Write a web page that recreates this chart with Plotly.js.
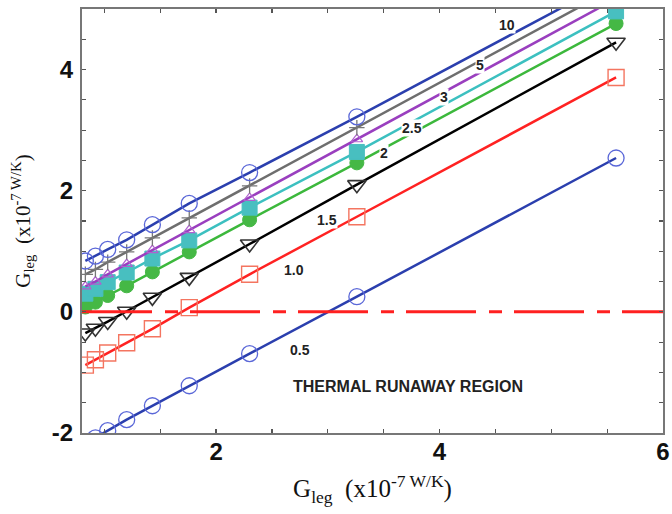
<!DOCTYPE html>
<html>
<head>
<meta charset="utf-8">
<script src="https://cdn.plot.ly/plotly-3.0.1.min.js"></script>
<style>html,body{margin:0;padding:0;background:#fff;}#chart{width:672px;height:514px;}</style>
</head>
<body>
<div id="chart"></div>
<script>
// Gleg values (x10^-7 W/K) on the x axis
const gLeg = [0.83, 0.92, 1.03, 1.20, 1.43, 1.76, 2.30, 3.26, 5.58];

// Series, one per curve label
const s10  = [0.84, 0.92, 1.03, 1.19, 1.44, 1.79, 2.30, 3.22, 5.50];
const s5   = [0.62, 0.70, 0.82, 0.99, 1.22, 1.55, 2.08, 3.04, 5.36];
const s3   = [0.42, 0.50, 0.62, 0.79, 1.02, 1.35, 1.88, 2.85, 5.17];
const s25  = [0.30, 0.38, 0.49, 0.65, 0.88, 1.18, 1.72, 2.64, 4.96];
const s2   = [0.08, 0.16, 0.27, 0.43, 0.66, 0.99, 1.52, 2.46, 4.76];
const s15  = [-0.35, -0.27, -0.16, 0.01, 0.24, 0.57, 1.12, 2.10, 4.45];
const s10b = [-0.88, -0.79, -0.68, -0.51, -0.28, 0.07, 0.62, 1.57, 3.87];
const s05  = [-2.17, -2.08, -1.96, -1.78, -1.55, -1.22, -0.69, 0.25, 2.54];

// Zero reference line
const zeroX = [0.8, 6];
const zeroY = [0, 0];

// Curve labels
const labelText = ["10", "5", "3", "2.5", "2", "1.5", "1.0", "0.5"];
const labelX    = [4.60, 4.36, 4.04, 3.75, 3.505, 2.99, 2.70, 2.75];
const labelY    = [4.74, 4.08, 3.55, 3.04, 2.63, 1.52, 0.69, -0.63];

const regionText = "THERMAL RUNAWAY REGION";
const regionX = 3.72, regionY = -1.24;

const yTickVals = [-2, 0, 2, 4];
const yTickText = ["-2", "0", "2", "4"];
const xTickVals = [2, 4, 6];
const xTickText = ["2", "4", "6"];

function series(y, lineColor, symbol, mColor, mSize, mWidth) {
  return {
    x: gLeg, y: y, type: 'scatter', mode: 'lines+markers',
    line: {color: lineColor, width: 2.5},
    marker: {
      symbol: symbol, size: mSize, color: mColor,
      line: {color: mColor, width: mWidth}
    },
    showlegend: false, hoverinfo: 'skip'
  };
}

const traces = [
  series(s05,  '#2b3fae', 'circle-open', '#5a67d8', 16, 1.3),
  series(s10b, '#ff2222', 'square-open', '#f47560', 16, 1.4),
  series(s15,  '#000000', 'triangle-down-open', '#333333', 16, 1.6),
  series(s2,   '#3cb83c', 'circle', '#45b845', 14, 1),
  series(s25,  '#3cc0c0', 'square', '#48bfc0', 15, 1),
  series(s3,   '#9a3fbf', 'triangle-up-open', '#b060d0', 10, 1.2),
  series(s5,   '#6e6e6e', 'cross-thin-open', '#777777', 11, 1.3),
  series(s10,  '#2b3fae', 'circle-open', '#5a67d8', 16, 1.3),
  {
    x: zeroX, y: zeroY, type: 'scatter', mode: 'lines',
    line: {color: '#ff2020', width: 3, dash: '70px,13px,13px,12px'},
    showlegend: false, hoverinfo: 'skip'
  }
];

const annotations = labelText.map((t, i) => ({
  x: labelX[i], y: labelY[i], xref: 'x', yref: 'y', text: t, showarrow: false,
  font: {family: 'Liberation Sans, Arial, sans-serif', size: 14, color: '#222', weight: 'bold'},
  bgcolor: '#ffffff', borderpad: 0
}));
annotations.push({
  x: regionX, y: regionY, xref: 'x', yref: 'y', text: regionText, showarrow: false,
  font: {family: 'Liberation Sans, Arial, sans-serif', size: 16, color: '#222', weight: 'bold'}
});

const tickFont = {family: 'Liberation Sans Narrow, Arial Narrow, Liberation Sans, Arial, sans-serif', size: 24, color: '#111', weight: 'bold'};

const layout = {
  width: 672, height: 514,
  margin: {l: 82, r: 9, t: 9, b: 81},
  paper_bgcolor: '#fff', plot_bgcolor: '#fff',
  xaxis: {
    range: [0.8, 6], tickvals: xTickVals, ticktext: xTickText,
    ticks: 'inside', ticklen: 4, tickwidth: 1.2, tickcolor: '#555',
    minor: {dtick: 0.5, tick0: 0, ticks: 'inside', ticklen: 4, tickcolor: '#555', showgrid: false},
    showgrid: false, zeroline: false, showline: true, linecolor: '#777', linewidth: 2, mirror: 'ticks',
    tickfont: tickFont, ticklabelstandoff: -4,
    title: {text: 'G<sub>leg</sub>  (x10<sup>-7 W/K</sup>)',
            font: {family: 'Liberation Serif, Times New Roman, serif', size: 25, color: '#111'}, standoff: 16}
  },
  yaxis: {
    range: [-2, 5], tickvals: yTickVals, ticktext: yTickText,
    ticks: 'inside', ticklen: 4, tickwidth: 1.2, tickcolor: '#555',
    minor: {dtick: 0.5, tick0: 0, ticks: 'inside', ticklen: 4, tickcolor: '#555', showgrid: false},
    showgrid: false, zeroline: false, showline: true, linecolor: '#777', linewidth: 2, mirror: 'ticks',
    tickfont: tickFont, ticklabelstandoff: 2,
    title: {text: 'G<sub>leg</sub>  (x10<sup>-7 W/K</sup>)',
            font: {family: 'Liberation Serif, Times New Roman, serif', size: 21, color: '#111'}, standoff: 16}
  },
  annotations: annotations
};

Plotly.newPlot('chart', traces, layout, {displayModeBar: false, staticPlot: true});
</script>
</body>
</html>
